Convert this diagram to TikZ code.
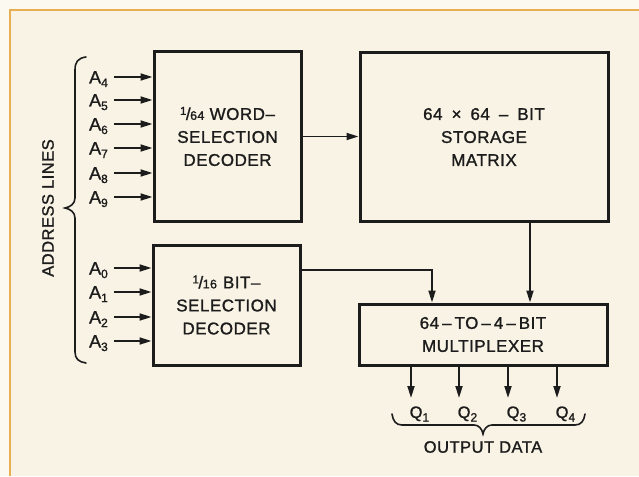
\documentclass[tikz,border=0pt]{standalone}
\usepackage{fontspec}
\setmainfont{Liberation Sans}[LetterSpace=3, FakeBold=1.2]
\usetikzlibrary{arrows.meta}
\definecolor{paper}{HTML}{F9F3E5}
\definecolor{outerpaper}{HTML}{FCF9F1}
\definecolor{frameor}{HTML}{E8AE52}
\definecolor{ink}{HTML}{1C1C1C}
\newcommand\sbx[1]{\raisebox{-3.5pt}{\fontsize{12}{12}\selectfont #1}}
\newcommand\frc[2]{\raisebox{5pt}{\fontsize{11.5}{11.5}\selectfont #1}\kern-0.5pt/\kern-0.5pt{\fontsize{12.5}{12.5}\selectfont #2}}
\newcommand\gp{\hspace{9pt}}
\begin{document}
\begin{tikzpicture}[x=1pt,y=-1pt,
  blk/.style={draw=ink, line width=3pt, inner sep=0pt, align=center, text=ink,
    font=\fontsize{17}{23}\selectfont},
  arr/.style={draw=ink, line width=1.8pt, -{Triangle[length=12pt,width=7pt]}},
  bracestyle/.style={draw=ink, line width=1.6pt, line cap=round},
  lbl/.style={font=\fontsize{18}{18}\selectfont, text=ink, inner xsep=6pt, inner ysep=0pt,
    text height=13pt, text depth=0pt, anchor=east},
  qlbl/.style={font=\fontsize{16.5}{16.5}\selectfont, text=ink, inner sep=0pt,
    text height=12pt, text depth=0pt, anchor=west},
  captext/.style={font=\fontsize{16.5}{16.5}\selectfont, text=ink, inner sep=0pt}]
\useasboundingbox (0,0) rectangle (639,476);
\fill[outerpaper] (0,0) rectangle (639,476);
\fill[paper] (10,10) rectangle (639,476);
\draw[frameor, line width=2.5pt] (10,476) -- (10,10) -- (639,10);

% blocks
\node[blk, minimum width=147pt, minimum height=169pt] (wd) at (227.5,136.5)
  {\frc{1}{64} WORD–\\SELECTION\\DECODER};
\node[blk, minimum width=248pt, minimum height=168pt] (sm) at (484,137)
  {64\gp×\gp64\gp–\gp BIT\\STORAGE\\MATRIX};
\node[blk, minimum width=147pt, minimum height=120pt] (bd) at (226.5,305)
  {\frc{1}{16}\hspace{6pt}BIT–\\SELECTION\\DECODER};
\node[blk, minimum width=248pt, minimum height=61pt] (mux) at (483,334.5)
  {64\hspace{3pt}–\hspace{3pt}TO\hspace{3pt}–\hspace{3pt}4\hspace{3pt}–\hspace{3pt}BIT\\MULTIPLEXER};

% address inputs
\foreach \n/\y in {4/77,5/100,6/124,7/148,8/173,9/197}{
  \node[lbl] (a\n) at (114,\y) {A\sbx{\n}};
  \draw[arr] (a\n.east) -- (a\n.east -| wd.west);
}
\foreach \n/\y in {0/268,1/292,2/317,3/341}{
  \node[lbl] (a\n) at (114,\y) {A\sbx{\n}};
  \draw[arr] (a\n.east) -- (a\n.east -| bd.west);
}

% internal connections
\draw[arr] (wd.east) -- (wd.east -| sm.west);
\coordinate (c1) at (530,0);
\draw[arr] (c1 |- sm.south) -- (c1 |- mux.north);
\coordinate (c2) at (432,270);
\draw[arr] (c2 -| bd.east) -- (c2) -- (c2 |- mux.north);

% outputs
\foreach \n/\x in {1/411,2/459,3/508,4/557}{
  \coordinate (o\n) at (\x,398);
  \draw[arr] (o\n |- mux.south) -- (o\n);
  \node[qlbl] (q\n) at (\x-1.5,412) {Q\sbx{\n}};
}

% braces
\draw[bracestyle] (86,57) .. controls (78,58) and (75,62) .. (75,70)
  -- (75,198) .. controls (75,204) and (70,207) .. (65,208)
  .. controls (70,209) and (75,212) .. (75,218)
  -- (75,352) .. controls (75,359) and (79,362) .. (86,363);
\draw[bracestyle] (392,414) .. controls (393,421) and (396,425) .. (402,425)
  -- (474,425) .. controls (479,425) and (482,429) .. (483,434)
  .. controls (484,429) and (487,425) .. (492,425)
  -- (575,425) .. controls (581,425) and (584,421) .. (585,414);

\node[captext, rotate=90] (addr) at (48,208) {ADDRESS LINES};
\node[captext] (outd) at (483,447) {OUTPUT DATA};
\end{tikzpicture}
\end{document}
